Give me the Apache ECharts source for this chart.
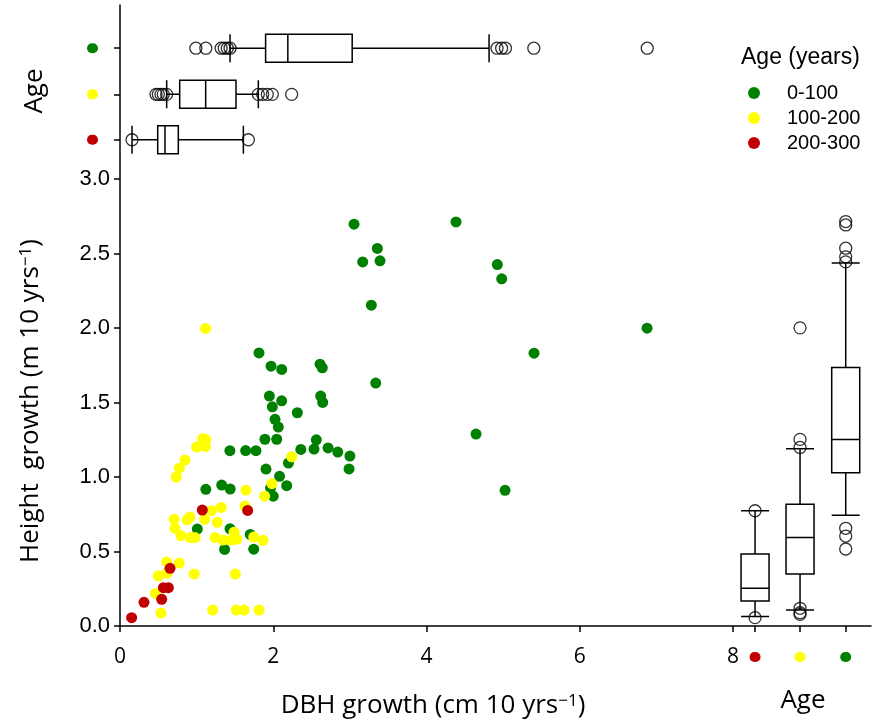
<!DOCTYPE html>
<html>
<head>
<meta charset="UTF-8">
<title>DBH growth vs height growth</title>
<script src="https://cdn.jsdelivr.net/npm/echarts@6/dist/echarts.min.js"></script>
<style>
    html, body { margin: 0; padding: 0; background: #fff; }
    #main { width: 876px; height: 728px; }
</style>
</head>
<body>
<div id="main"></div>
<script>
    // age classes, same order everywhere: 0-100, 100-200, 200-300
    var ageGroups = ['0-100', '100-200', '200-300'];
    var ageColors = ['#008000', '#ffff00', '#c00000'];

    // [DBH growth, height growth]
    var young = [
        [1.009, 0.651], [1.436, 0.653], [1.700, 0.615], [1.365, 0.514], [1.745, 0.516],
        [1.120, 0.918], [1.327, 0.946], [1.438, 0.920], [1.965, 0.928], [2.000, 0.872],
        [2.175, 0.942], [2.082, 1.005], [1.905, 1.054], [2.198, 1.094], [2.360, 1.186],
        [1.434, 1.177], [1.640, 1.178], [1.774, 1.177], [1.891, 1.254], [2.045, 1.254],
        [2.066, 1.336], [2.023, 1.388], [2.314, 1.432], [1.988, 1.472], [2.110, 1.512],
        [1.949, 1.544], [2.619, 1.544], [2.645, 1.501], [2.610, 1.758], [2.640, 1.734],
        [1.971, 1.745], [2.110, 1.723], [1.814, 1.834], [2.562, 1.250], [2.532, 1.188],
        [2.715, 1.196], [2.842, 1.168], [3.000, 1.141], [2.989, 1.055],
        [3.054, 2.698], [4.385, 2.713], [3.358, 2.535], [3.167, 2.445], [3.393, 2.452],
        [4.924, 2.427], [4.981, 2.331], [3.280, 2.154], [6.878, 2.000], [5.403, 1.832],
        [3.337, 1.631], [4.646, 1.289], [5.025, 0.911]
    ];
    var middle = [
        [1.118, 1.998], [1.080, 1.258], [1.122, 1.250], [1.000, 1.202], [1.115, 1.205],
        [0.848, 1.114], [0.774, 1.060], [0.733, 1.000], [1.644, 0.912], [1.982, 0.956],
        [1.888, 0.872], [1.631, 0.805], [1.322, 0.796], [1.196, 0.774], [1.105, 0.716],
        [0.914, 0.732], [0.876, 0.713], [0.707, 0.717], [0.718, 0.656], [0.796, 0.606],
        [0.921, 0.594], [0.979, 0.594], [1.270, 0.696], [1.240, 0.594], [1.345, 0.577],
        [1.488, 0.630], [1.525, 0.584], [1.455, 0.577], [1.745, 0.597], [1.866, 0.575],
        [0.609, 0.430], [0.774, 0.423], [0.500, 0.337], [0.609, 0.354], [0.968, 0.349],
        [1.506, 0.349], [0.462, 0.219], [0.535, 0.087], [1.209, 0.107], [1.518, 0.107],
        [1.620, 0.107], [1.814, 0.107], [2.240, 1.136]
    ];
    var old = [
        [0.152, 0.056], [0.313, 0.159], [0.544, 0.179], [0.566, 0.257],
        [0.631, 0.257], [0.653, 0.387], [1.074, 0.779], [1.666, 0.776]
    ];

    // where the summary boxes sit on the other axis
    var boxPosY = [3.88, 3.57, 3.265];    // DBH boxes, above the scatter
    var boxPosX = [9.47, 8.874, 8.287];   // height boxes, right of the scatter

    // [10th, 25th, median, 75th, 90th]
    var dbhBoxes = [
        [1.436, 1.90, 2.19, 3.03, 4.816],
        [0.609, 0.779, 1.118, 1.514, 1.805],
        [0.157, 0.492, 0.587, 0.761, 1.61]
    ];
    var dbhOutliers = [
        [0.99, 1.12, 1.32, 1.36, 1.40, 1.436, 4.92, 4.98, 5.03, 5.40, 6.88],
        [0.47, 0.50, 0.535, 0.565, 0.609, 1.805, 1.862, 1.922, 1.988, 2.24],
        [0.157, 1.675]
    ];
    var heightBoxes = [
        [0.743, 1.029, 1.253, 1.736, 2.438],
        [0.107, 0.349, 0.595, 0.817, 1.19],
        [0.063, 0.168, 0.253, 0.483, 0.774]
    ];
    var heightOutliers = [
        [0.517, 0.604, 0.656, 2.445, 2.479, 2.537, 2.693, 2.716],
        [0.078, 0.089, 0.119, 1.199, 1.253, 2.002],
        [0.056, 0.774]
    ];

    var xTicks = [0, 2, 4, 6, 8];
    var yTicks = [0, 0.5, 1.0, 1.5, 2.0, 2.5, 3.0];

    function boxIndex(list, v) {
        for (var i = 0; i < list.length; i++) {
            if (Math.abs(list[i] - v) < 1e-6) return i;
        }
        return -1;
    }

    var dotRich = {sp: {width: 12}};
    ageColors.forEach(function (c, i) {
        dotRich['d' + i] = {width: 11, height: 10, borderRadius: 5, backgroundColor: c};
    });

    var outlierStyle = {color: 'rgba(0,0,0,0)', borderColor: '#000', borderWidth: 1.3};
    var boxStyle = {color: '#fff', borderColor: '#000', borderWidth: 1.5};

    var dbhOutlierData = [];
    dbhOutliers.forEach(function (list, i) {
        list.forEach(function (v) { dbhOutlierData.push([v, boxPosY[i]]); });
    });
    var heightOutlierData = [];
    heightOutliers.forEach(function (list, i) {
        list.forEach(function (v) { heightOutlierData.push([boxPosX[i], v]); });
    });

    var axisLine = {show: true, lineStyle: {color: '#000', width: 1.5}};
    var supStyle = {sup: {fontSize: 17, fontFamily: 'Open Sans', verticalAlign: 'top'}};

    var myChart = echarts.init(document.getElementById('main'));
    var option = {
        animation: false,
        backgroundColor: '#fff',
        title: {
            text: 'Age (years)',
            left: 741, top: 46, padding: 0,
            textStyle: {fontSize: 23, fontWeight: 'normal', color: '#000', fontFamily: 'Liberation Sans'}
        },
        legend: {
            data: ageGroups,
            orient: 'vertical',
            left: 748, top: 83, padding: 0,
            itemWidth: 12, itemHeight: 12, itemGap: 5,
            icon: 'circle',
            textStyle: {fontSize: 20, color: '#000', fontFamily: 'Liberation Sans', padding: [0, 0, 0, 22]}
        },
        grid: {left: 120, top: 5, width: 751, height: 621},
        xAxis: {
            type: 'value', min: 0, max: 9.8,
            splitLine: {show: false},
            axisLine: axisLine,
            axisTick: {show: true, length: 6, customValues: xTicks.concat(boxPosX), lineStyle: {color: '#000', width: 1.5}},
            axisLabel: {
                customValues: xTicks.concat(boxPosX),
                margin: 31, verticalAlign: 'middle',
                fontSize: 21, color: '#000', fontFamily: 'Open Sans',
                formatter: function (v) {
                    var i = boxIndex(boxPosX, v);
                    return i >= 0 ? '{d' + i + '|}' : String(v);
                },
                rich: dotRich
            }
        },
        yAxis: {
            type: 'value', min: 0, max: 4.17,
            splitLine: {show: false},
            axisLine: axisLine,
            axisTick: {show: true, length: 6, customValues: yTicks.concat(boxPosY), lineStyle: {color: '#000', width: 1.5}},
            axisLabel: {
                customValues: yTicks.concat(boxPosY),
                margin: 10,
                fontSize: 22, color: '#000', fontFamily: 'Liberation Sans',
                formatter: function (v) {
                    var i = boxIndex(boxPosY, v);
                    return i >= 0 ? '{d' + i + '|}{sp|}' : v.toFixed(1);
                },
                rich: dotRich
            }
        },
        graphic: [
            {
                type: 'text', x: 31, y: 401, rotation: Math.PI / 2,
                style: {
                    text: 'Height  growth (m 10 yrs{sup|\u22121})',
                    fontSize: 26, fontFamily: 'Open Sans', fill: '#000',
                    align: 'center', verticalAlign: 'middle', rich: supStyle
                }
            },
            {
                type: 'text', x: 433, y: 706,
                style: {
                    text: 'DBH growth (cm 10 yrs{sup|\u22121})',
                    fontSize: 26, fontFamily: 'Open Sans', fill: '#000',
                    align: 'center', verticalAlign: 'middle', rich: supStyle
                }
            },
            {
                type: 'text', x: 35, y: 91, rotation: Math.PI / 2,
                style: {text: 'Age', fontSize: 26, fontFamily: 'Open Sans', fill: '#000', align: 'center', verticalAlign: 'middle'}
            },
            {
                type: 'text', x: 803, y: 701,
                style: {text: 'Age', fontSize: 26, fontFamily: 'Open Sans', fill: '#000', align: 'center', verticalAlign: 'middle'}
            }
        ],
        series: [
            {name: ageGroups[0], type: 'scatter', data: young, symbolSize: 11, itemStyle: {color: ageColors[0], opacity: 1}, z: 3},
            {name: ageGroups[1], type: 'scatter', data: middle, symbolSize: 11, itemStyle: {color: ageColors[1], opacity: 1}, z: 4},
            {name: ageGroups[2], type: 'scatter', data: old, symbolSize: 11, itemStyle: {color: ageColors[2], opacity: 1}, z: 5},
            {
                type: 'boxplot', layout: 'vertical', silent: true,
                data: dbhBoxes.map(function (b, i) { return [boxPosY[i]].concat(b); }),
                boxWidth: [28, 28], itemStyle: boxStyle
            },
            {
                type: 'boxplot', layout: 'horizontal', silent: true,
                data: heightBoxes.map(function (b, i) { return [boxPosX[i]].concat(b); }),
                boxWidth: [28, 28], itemStyle: boxStyle
            },
            {type: 'scatter', silent: true, data: dbhOutlierData, symbolSize: 12, itemStyle: outlierStyle, z: 6},
            {type: 'scatter', silent: true, data: heightOutlierData, symbolSize: 12, itemStyle: outlierStyle, z: 6}
        ]
    };
    myChart.setOption(option);
</script>
</body>
</html>
